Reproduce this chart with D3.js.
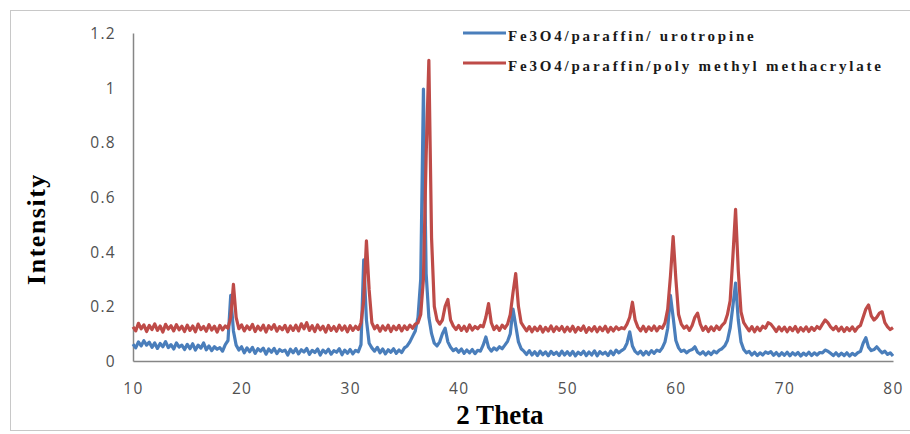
<!DOCTYPE html>
<html>
<head>
<meta charset="utf-8">
<script src="https://cdn.jsdelivr.net/npm/d3@7"></script>
<style>
  body { margin: 0; background: #fff; }
  svg { display: block; }
</style>
</head>
<body>
<svg width="910" height="434"></svg>
<script>
"use strict";

// Data. One value every 0.25 degrees, 10 to 80.

var ThetaStart = 10;
var ThetaStep = 0.25;

var urotropine = [
    0.062,0.048,0.070,0.055,0.074,0.058,0.069,0.050,0.066,0.046,0.064,0.052,0.071,0.049,0.060,0.044,0.066,0.051,0.058,0.042,
    0.061,0.045,0.063,0.040,0.058,0.047,0.066,0.041,0.055,0.038,0.052,0.043,0.049,0.036,0.060,0.075,0.240,0.110,0.058,0.040,
    0.052,0.030,0.048,0.034,0.050,0.028,0.045,0.036,0.047,0.025,0.044,0.032,0.046,0.027,0.042,0.035,0.040,0.022,0.043,0.030,
    0.045,0.026,0.041,0.033,0.046,0.024,0.039,0.031,0.044,0.022,0.040,0.030,0.043,0.025,0.038,0.032,0.045,0.023,0.040,0.028,
    0.042,0.026,0.039,0.034,0.060,0.370,0.150,0.065,0.048,0.036,0.050,0.030,0.044,0.026,0.041,0.032,0.045,0.028,0.040,0.031,
    0.048,0.055,0.070,0.090,0.110,0.160,0.300,0.995,0.320,0.160,0.100,0.065,0.055,0.070,0.100,0.120,0.070,0.050,0.038,0.045,
    0.032,0.044,0.028,0.040,0.030,0.042,0.027,0.039,0.036,0.058,0.088,0.050,0.036,0.048,0.040,0.052,0.045,0.058,0.072,0.100,
    0.190,0.130,0.070,0.045,0.036,0.024,0.038,0.022,0.034,0.020,0.036,0.023,0.033,0.019,0.035,0.024,0.032,0.020,0.036,0.022,
    0.034,0.021,0.035,0.019,0.032,0.024,0.036,0.020,0.033,0.022,0.037,0.019,0.034,0.025,0.032,0.020,0.036,0.023,0.040,0.030,
    0.038,0.045,0.065,0.107,0.055,0.035,0.026,0.036,0.022,0.035,0.024,0.038,0.028,0.040,0.035,0.048,0.070,0.120,0.240,0.160,
    0.075,0.048,0.035,0.040,0.030,0.038,0.042,0.052,0.032,0.025,0.034,0.022,0.033,0.024,0.036,0.030,0.040,0.045,0.055,0.075,
    0.120,0.200,0.285,0.150,0.070,0.042,0.030,0.035,0.022,0.032,0.020,0.030,0.022,0.033,0.028,0.034,0.021,0.031,0.019,0.030,
    0.021,0.032,0.019,0.030,0.022,0.031,0.018,0.029,0.021,0.032,0.020,0.030,0.022,0.031,0.030,0.040,0.036,0.028,0.020,0.030,
    0.019,0.029,0.020,0.030,0.018,0.028,0.021,0.030,0.035,0.065,0.085,0.050,0.038,0.042,0.052,0.040,0.030,0.036,0.024,0.030,
    0.018
];

var pmma = [
    0.125,0.110,0.138,0.118,0.132,0.108,0.130,0.115,0.136,0.112,0.128,0.106,0.134,0.117,0.129,0.110,0.133,0.114,0.127,0.108,
    0.131,0.112,0.128,0.107,0.135,0.115,0.126,0.109,0.133,0.113,0.127,0.106,0.130,0.114,0.128,0.120,0.160,0.280,0.160,0.118,
    0.132,0.110,0.128,0.115,0.134,0.108,0.127,0.113,0.131,0.106,0.129,0.116,0.133,0.109,0.126,0.114,0.130,0.107,0.128,0.112,
    0.131,0.110,0.136,0.118,0.140,0.112,0.129,0.108,0.132,0.114,0.127,0.106,0.130,0.112,0.126,0.109,0.131,0.113,0.128,0.107,
    0.129,0.112,0.127,0.115,0.140,0.220,0.440,0.260,0.140,0.118,0.130,0.109,0.128,0.113,0.131,0.108,0.127,0.114,0.130,0.110,
    0.128,0.115,0.131,0.120,0.135,0.140,0.170,0.300,0.750,1.100,0.450,0.200,0.150,0.135,0.150,0.200,0.225,0.150,0.128,0.115,
    0.130,0.112,0.127,0.109,0.132,0.113,0.126,0.118,0.130,0.125,0.160,0.210,0.140,0.115,0.128,0.112,0.131,0.120,0.135,0.170,
    0.250,0.320,0.200,0.140,0.125,0.110,0.126,0.107,0.124,0.111,0.127,0.106,0.123,0.110,0.128,0.108,0.125,0.112,0.126,0.107,
    0.124,0.109,0.127,0.106,0.123,0.112,0.128,0.105,0.122,0.110,0.126,0.107,0.124,0.111,0.127,0.106,0.123,0.110,0.125,0.115,
    0.122,0.118,0.135,0.160,0.215,0.150,0.124,0.110,0.127,0.108,0.125,0.112,0.128,0.110,0.126,0.120,0.140,0.190,0.310,0.455,
    0.300,0.170,0.135,0.120,0.128,0.112,0.130,0.160,0.175,0.135,0.112,0.126,0.108,0.125,0.111,0.128,0.115,0.130,0.140,0.170,
    0.220,0.380,0.555,0.330,0.180,0.140,0.125,0.110,0.126,0.107,0.124,0.111,0.127,0.120,0.140,0.135,0.122,0.108,0.125,0.110,
    0.124,0.107,0.123,0.111,0.126,0.106,0.122,0.110,0.125,0.108,0.123,0.112,0.126,0.118,0.135,0.150,0.140,0.125,0.115,0.126,
    0.110,0.124,0.108,0.122,0.111,0.125,0.109,0.123,0.130,0.160,0.190,0.205,0.165,0.150,0.160,0.175,0.180,0.140,0.125,0.115,
    0.122
];

var SeriesNames = ["Fe3O4/paraffin/ urotropine", "Fe3O4/paraffin/poly methyl methacrylate"];
var SeriesColors = ["#4a7ebb", "#be4b48"];

var XTicks = [10, 20, 30, 40, 50, 60, 70, 80];
var YTicks = [0, 0.2, 0.4, 0.6, 0.8, 1, 1.2];

// SVG and plot area.

var svg = d3.select("svg");

var Left = 133, Right = 893, Top = 33, Bottom = 361;
var Serif = "'Liberation Serif', 'Times New Roman', serif";

var x = d3.scaleLinear().domain([10, 80]).range([Left, Right]);
var y = d3.scaleLinear().domain([0, 1.2]).range([Bottom, Top]);

// Outer frame.
svg.append("rect")
    .attr("x", 10.5).attr("y", 10.5)
    .attr("width", 920).attr("height", 420)
    .attr("fill", "none")
    .attr("stroke", "#c8c8c8");

// Axes: plain lines, no tick marks.
var xAxis = svg.append("g")
    .attr("transform", "translate(0," + Bottom + ")")
    .call(d3.axisBottom(x).tickValues(XTicks).tickSize(0).tickPadding(22)
        .tickFormat(d3.format("d")));

var yAxis = svg.append("g")
    .attr("transform", "translate(" + Left + ",0)")
    .call(d3.axisLeft(y).tickValues(YTicks).tickSize(0).tickPadding(17)
        .tickFormat(function(d){ return d3.format("")(+d.toFixed(1)); }));

[xAxis, yAxis].forEach(function(a){
    a.select(".domain").attr("stroke", "#868686").attr("stroke-width", 1.5);
    a.selectAll("text")
        .attr("fill", "#505050")
        .style("font-family", "'Open Sans', sans-serif")
        .style("font-size", "15.5px")
        .style("letter-spacing", "1.3px");
});
yAxis.selectAll("text").attr("dy", "0.35em");

// Series, red drawn last so it sits on top.
var line = d3.line()
    .x(function(d, i){ return x(ThetaStart + i*ThetaStep); })
    .y(function(d){ return y(d); });

[urotropine, pmma].forEach(function(s, k){
    svg.append("path")
        .datum(s)
        .attr("d", line)
        .attr("fill", "none")
        .attr("stroke", SeriesColors[k])
        .attr("stroke-width", 3.2)
        .attr("stroke-linejoin", "round");
});

// Axis titles.
svg.append("text")
    .attr("x", 500).attr("y", 424)
    .attr("text-anchor", "middle")
    .style("font-family", Serif)
    .style("font-weight", "bold")
    .style("font-size", "27px")
    .text("2 Theta");

svg.append("text")
    .attr("transform", "translate(45,229) rotate(-90)")
    .attr("text-anchor", "middle")
    .style("font-family", Serif)
    .style("font-weight", "bold")
    .style("font-size", "26px")
    .style("letter-spacing", "1.5px")
    .text("Intensity");

// Legend.
var legend = svg.append("g");
SeriesNames.forEach(function(name, k){
    var ly = 33 + k*30;
    legend.append("line")
        .attr("x1", 463).attr("x2", 506)
        .attr("y1", ly).attr("y2", ly)
        .attr("stroke", SeriesColors[k])
        .attr("stroke-width", 3);
    legend.append("text")
        .attr("x", 508).attr("y", ly + 7.5)
        .style("font-family", Serif)
        .style("font-weight", "bold")
        .style("font-size", "15px")
        .style("letter-spacing", "2.8px")
        .attr("fill", "#1a1a1a")
        .text(name);
});
</script>
</body>
</html>
